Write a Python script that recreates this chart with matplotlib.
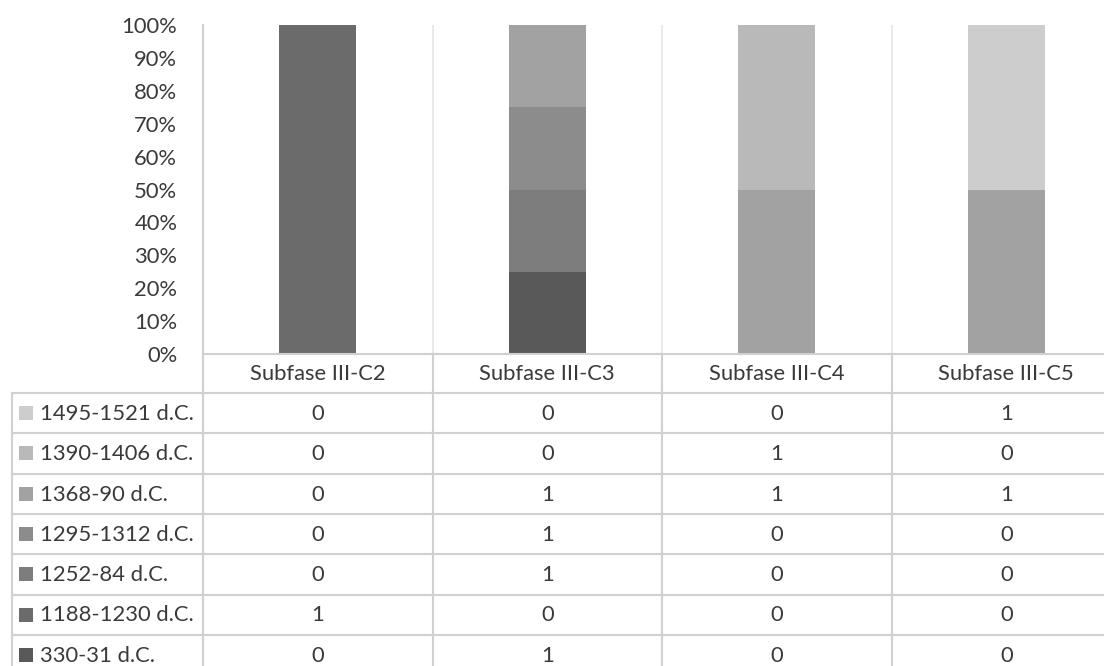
import matplotlib
matplotlib.use("Agg")
import matplotlib.pyplot as plt
from matplotlib.ticker import PercentFormatter
import numpy as np

# Categories and series (counts per subphase)
categories = ["Subfase III-C2", "Subfase III-C3", "Subfase III-C4", "Subfase III-C5"]
series_names = ["330-31 d.C.", "1188-1230 d.C.", "1252-84 d.C.", "1295-1312 d.C.",
                "1368-90 d.C.", "1390-1406 d.C.", "1495-1521 d.C."]
s_330 = [0, 1, 0, 0]
s_1188 = [1, 0, 0, 0]
s_1252 = [0, 1, 0, 0]
s_1295 = [0, 1, 0, 0]
s_1368 = [0, 1, 1, 1]
s_1390 = [0, 0, 1, 0]
s_1495 = [0, 0, 0, 1]
series_values = [s_330, s_1188, s_1252, s_1295, s_1368, s_1390, s_1495]
series_colors = ["#595959", "#6b6b6b", "#7d7d7d", "#8c8c8c", "#a2a2a2", "#b9b9b9", "#cdcdcd"]
y_ticks = [0, 0.1, 0.2, 0.3, 0.4, 0.5, 0.6, 0.7, 0.8, 0.9, 1.0]

plt.rcParams["font.family"] = ["Lato", "DejaVu Sans"]
TEXT = "#3a3a3a"
GRID = "#e6e6e6"
TABLE_LINE = "#d0d0d0"
FS = 15.8

W, H = 1104, 666
fig = plt.figure(figsize=(W / 100, H / 100), dpi=100)

# Layout in pixels
col_w = 229.5
x0_px = 203
plot_top, plot_bot = 25, 354
leg_left_px = 12
header_h = 39
row_h = 40.3

def fx(px):
    return px / W

def fy(py):
    return (H - py) / H

n_cat = len(categories)
right_px = x0_px + n_cat * col_w

# Stacked 100% bar chart
ax = fig.add_axes([fx(x0_px), fy(plot_bot), (right_px - x0_px) / W, (plot_bot - plot_top) / H])
vals = np.array(series_values, dtype=float)
totals = vals.sum(axis=0)
shares = vals / totals
x = np.arange(n_cat) + 0.5
bottom = np.zeros(n_cat)
for name, share, color in zip(series_names, shares, series_colors):
    ax.bar(x, share, width=0.335, bottom=bottom, color=color, label=name, zorder=3)
    bottom += share
ax.set_xlim(0, n_cat)
ax.set_ylim(0, 1)
ax.set_yticks(y_ticks)
ax.yaxis.set_major_formatter(PercentFormatter(1.0, decimals=0))
ax.tick_params(axis="y", length=0, pad=18.5, labelsize=FS, labelcolor=TEXT)
ax.set_xticks([])
for side in ["top", "right", "bottom"]:
    ax.spines[side].set_visible(False)
ax.spines["left"].set_color(TABLE_LINE)
ax.spines["left"].set_linewidth(1.5)
for k in range(1, n_cat):
    ax.axvline(k, color=GRID, lw=1.2, zorder=1)

# Data table below the plot
n_rows = len(series_names)
tab_bot_px = plot_bot + header_h + n_rows * row_h
tab = fig.add_axes([fx(leg_left_px), fy(tab_bot_px), (right_px - leg_left_px) / W,
                    (tab_bot_px - plot_bot) / H])
leg_left = (leg_left_px - x0_px) / col_w
hdr = header_h / row_h
tab.set_xlim(leg_left, n_cat)
tab.set_ylim(hdr + n_rows, 0)
tab.axis("off")

lw = 1.5
# header top line (axis baseline)
tab.plot([0, n_cat], [0, 0], color=TABLE_LINE, lw=lw, clip_on=False)
# row boundaries
for r in range(n_rows + 1):
    y = hdr + r
    tab.plot([leg_left, n_cat], [y, y], color=TABLE_LINE, lw=lw, clip_on=False)
# column boundaries
tab.plot([leg_left, leg_left], [hdr, hdr + n_rows], color=TABLE_LINE, lw=lw, clip_on=False)
for k in range(n_cat + 1):
    tab.plot([k, k], [0, hdr + n_rows], color=TABLE_LINE, lw=lw, clip_on=False)

for j, cat in enumerate(categories):
    tab.text(j + 0.5, hdr / 2 + 0.02, cat, ha="center", va="center", fontsize=FS, color=TEXT)

# rows listed from the top series down
order = list(range(n_rows))[::-1]
for r, si in enumerate(order):
    yc = hdr + r + 0.5
    tab.scatter([leg_left + 0.063], [yc], marker="s", s=88, color=series_colors[si],
                linewidths=0, clip_on=False)
    tab.text(leg_left + 0.122, yc + 0.02, series_names[si], ha="left", va="center",
             fontsize=FS, color=TEXT)
    for j in range(n_cat):
        tab.text(j + 0.5, yc + 0.02, f"{series_values[si][j]:d}", ha="center", va="center",
                 fontsize=FS, color=TEXT)

fig.savefig("out.png", dpi=100, facecolor="white")
